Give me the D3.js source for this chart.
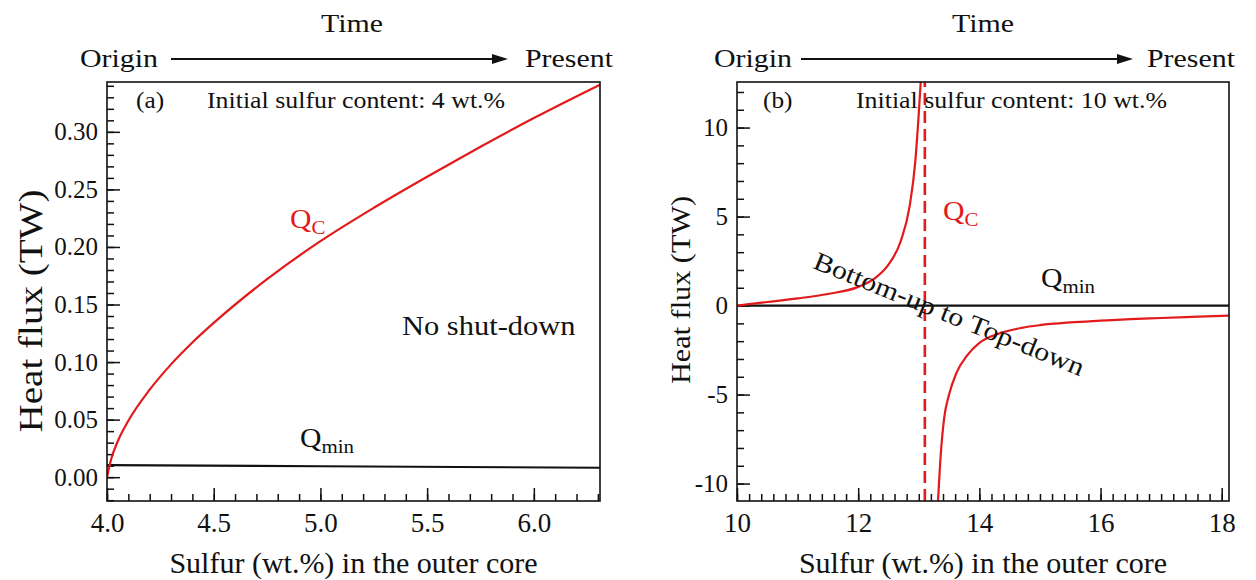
<!DOCTYPE html>
<html>
<head>
<meta charset="utf-8">
<script src="https://cdn.jsdelivr.net/npm/d3@7"></script>
<style>
  body { margin: 0; background: #fff; }
  svg { display: block; font-family: "Liberation Serif", "Times New Roman", serif; }
</style>
</head>
<body>
<svg id="viz"></svg>
<script>
const width = 1256, height = 580;
const red = "#e31a1c";

// panel (a): initial sulfur 4 wt.%
const aSulfur = [4.00, 4.02, 4.05, 4.10, 4.20, 4.30, 4.40, 4.50, 4.75, 5.00, 5.25, 5.50, 5.75, 6.00, 6.31];
const aQc     = [0.000, 0.016, 0.031, 0.049, 0.076, 0.098, 0.117, 0.134, 0.172, 0.205, 0.234, 0.261, 0.287, 0.312, 0.341];
const aQminS  = [4.0, 5.0, 6.31];
const aQmin   = [0.0105, 0.0095, 0.0082];
const aXTicks = [4.0, 4.5, 5.0, 5.5, 6.0];
const aYTicks = [0.00, 0.05, 0.10, 0.15, 0.20, 0.25, 0.30];

// panel (b): initial sulfur 10 wt.%
const bSulfur1 = [10.0, 10.5, 11.0, 11.5, 12.0, 12.3, 12.5, 12.7, 12.85, 12.94, 13.0, 13.04];
const bQc1     = [0.00, 0.20, 0.40, 0.65, 1.05, 1.60, 2.30, 3.60, 5.60, 8.00, 10.8, 13.0];
const bSulfur2 = [13.31, 13.36, 13.42, 13.50, 13.62, 13.80, 14.00, 14.30, 14.70, 15.00, 15.50, 16.00, 16.50, 17.00, 17.50, 18.12];
const bQc2     = [-11.5, -8.5, -6.3, -5.0, -3.8, -2.8, -2.1, -1.6, -1.25, -1.1, -0.95, -0.85, -0.76, -0.70, -0.64, -0.56];
const bQminS   = [10.0, 18.12];
const bQmin    = [0, 0];
const bAsymptote = 13.1;
const bXTicks = [10, 12, 14, 16, 18];
const bYTicks = [-10, -5, 0, 5, 10];

const svg = d3.select("#viz").attr("width", width).attr("height", height);

// text helper, glyphs in the figure are a bit wider than Times
function txt(g, x, y, s, o) {
  o = o || {};
  const t = g.append("text")
    .attr("transform", `translate(${x},${y}) rotate(${o.rot || 0}) scale(${o.sx || 1},1)`)
    .attr("font-size", o.size || 26)
    .attr("fill", o.fill || "#111")
    .attr("text-anchor", o.anchor || "start");
  if (o.len) t.attr("textLength", o.len).attr("lengthAdjust", "spacingAndGlyphs");
  if (o.sub) {
    t.append("tspan").text(s);
    t.append("tspan").attr("font-size", o.subSize || 19).attr("dy", 6).text(o.sub);
  } else t.text(s);
  return t;
}

function header(arrowA, arrowB, timeX, originX, presentX) {
  txt(svg, timeX, 32, "Time", {anchor: "middle", sx: 1.15});
  txt(svg, originX, 67, "Origin", {sx: 1.15});
  txt(svg, presentX, 67, "Present", {sx: 1.15});
  svg.append("line").attr("x1", arrowA).attr("x2", arrowB - 12)
    .attr("y1", 59).attr("y2", 59).attr("stroke", "#111").attr("stroke-width", 2);
  svg.append("path")
    .attr("d", `M${arrowB},59 L${arrowB - 16},54 L${arrowB - 16},64 Z`)
    .attr("fill", "#111");
}

function panel(p) {
  const g = svg.append("g");
  const x = d3.scaleLinear().domain(p.xDomain).range([p.left, p.right]);
  const y = d3.scaleLinear().domain(p.yDomain).range([p.bottom, p.top]);

  const clipId = "clip" + p.id;
  svg.append("clipPath").attr("id", clipId).append("rect")
    .attr("x", p.left).attr("y", p.top)
    .attr("width", p.right - p.left).attr("height", p.bottom - p.top);

  // minor + major ticks, pointing inward
  const axes = [
    d3.axisBottom(x).tickValues(p.xMinor).tickSize(-7).tickFormat(""),
    d3.axisBottom(x).tickValues(p.xTicks).tickSize(-13).tickPadding(12).tickFormat(p.xFmt)
  ];
  axes.forEach(a => {
    const ax = g.append("g").attr("transform", `translate(0,${p.bottom})`).call(a);
    ax.select(".domain").remove();
    ax.selectAll("line").attr("stroke", "#111").attr("stroke-width", 1.5);
    ax.selectAll("text").attr("font-family", "Liberation Serif").attr("font-size", 27).attr("fill", "#111");
  });
  const yaxes = [
    d3.axisLeft(y).tickValues(p.yMinor).tickSize(-7).tickFormat(""),
    d3.axisLeft(y).tickValues(p.yTicks).tickSize(-13).tickPadding(9).tickFormat(p.yFmt)
  ];
  yaxes.forEach(a => {
    const ax = g.append("g").attr("transform", `translate(${p.left},0)`).call(a);
    ax.select(".domain").remove();
    ax.selectAll("line").attr("stroke", "#111").attr("stroke-width", 1.5);
    ax.selectAll("text").attr("font-family", "Liberation Serif").attr("font-size", 25).attr("fill", "#111");
  });

  const line = d3.line().x(d => x(d[0])).y(d => y(d[1])).curve(d3.curveMonotoneX);
  const plot = g.append("g").attr("clip-path", `url(#${clipId})`);
  p.series.forEach(s => {
    plot.append("path")
      .datum(s.xs.map((v, i) => [v, s.ys[i]]))
      .attr("d", line)
      .attr("fill", "none")
      .attr("stroke", s.color)
      .attr("stroke-width", s.w || 2.2)
      .attr("stroke-dasharray", s.dash || null);
  });

  g.append("rect")
    .attr("x", p.left).attr("y", p.top)
    .attr("width", p.right - p.left).attr("height", p.bottom - p.top)
    .attr("fill", "none").attr("stroke", "#111").attr("stroke-width", 1.6);

  // axis titles
  txt(g, (p.left + p.right) / 2, 573, "Sulfur (wt.%) in the outer core", {anchor: "middle", size: 30});
  txt(g, p.yTitleX, p.yTitleY, "Heat flux (TW)", {anchor: "middle", rot: -90, size: p.yTitleSize, len: p.yTitleLen});
  return {g, x, y};
}

const range = (a, b, s) => d3.range(Math.round((b - a) / s) + 1).map(i => +(a + i * s).toFixed(3));

// ---- panel (a)
header(171, 508, 352, 80, 525);
const A = panel({
  id: "a", left: 107, right: 600, top: 82, bottom: 501,
  xDomain: [4.0, 6.31], yDomain: [-0.0207, 0.3433],
  xTicks: aXTicks, xMinor: range(4.0, 6.3, 0.1),
  yTicks: aYTicks, yMinor: range(-0.02, 0.34, 0.01),
  xFmt: d3.format(".1f"), yFmt: d3.format(".2f"),
  yTitleX: 42, yTitleY: 311, yTitleSize: 33, yTitleLen: 243,
  series: [
    {xs: aQminS, ys: aQmin, color: "#111"},
    {xs: aSulfur, ys: aQc, color: red}
  ]
});
txt(A.g, 136, 108, "(a)", {size: 23, sx: 1.1});
txt(A.g, 207, 108, "Initial sulfur content: 4 wt.%", {size: 22.5, sx: 1.15});
txt(A.g, 290, 228, "Q", {size: 27, sx: 1.1, fill: red, sub: "C"});
txt(A.g, 402, 335, "No shut-down", {size: 26.5, sx: 1.15});
txt(A.g, 300, 447, "Q", {size: 27, sx: 1.1, sub: "min"});

// ---- panel (b)
header(801, 1133, 983, 714, 1147);
const fmtB = d => d < 0 ? "-" + Math.abs(d) : String(d);
const B = panel({
  id: "b", left: 737, right: 1229, top: 82, bottom: 501,
  xDomain: [10, 18.12], yDomain: [-10.98, 12.56],
  xTicks: bXTicks, xMinor: range(10, 18, 0.2),
  yTicks: bYTicks, yMinor: range(-10, 12, 1),
  xFmt: d3.format("d"), yFmt: fmtB,
  yTitleX: 690, yTitleY: 290, yTitleSize: 28, yTitleLen: 188,
  series: [
    {xs: bQminS, ys: bQmin, color: "#111"},
    {xs: [bAsymptote, bAsymptote], ys: [-10.98, 12.56], color: red, dash: "12,6", w: 2.6},
    {xs: bSulfur1, ys: bQc1, color: red},
    {xs: bSulfur2, ys: bQc2, color: red}
  ]
});
txt(B.g, 763, 108, "(b)", {size: 23, sx: 1.1});
txt(B.g, 856, 108, "Initial sulfur content: 10 wt.%", {size: 22.5, sx: 1.15});
txt(B.g, 943, 220, "Q", {size: 27, sx: 1.1, fill: red, sub: "C"});
txt(B.g, 1041, 287, "Q", {size: 27, sx: 1.1, sub: "min"});
txt(B.g, 946, 322, "Bottom-up to Top-down", {size: 26, sx: 1.15, rot: 22, anchor: "middle"});
</script>
</body>
</html>
